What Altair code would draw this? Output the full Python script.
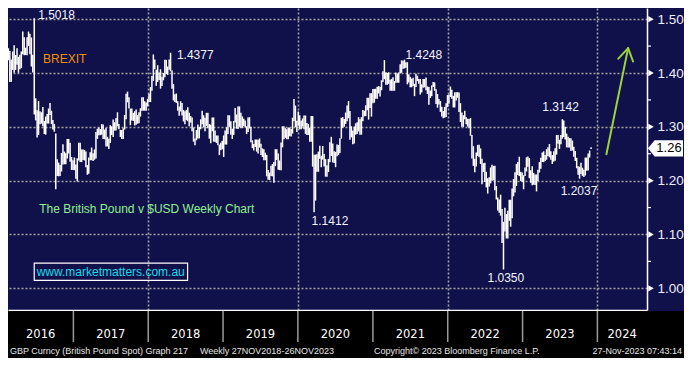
import altair as alt
import pandas as pd

# ---------------- weekly GBPUSD bars (high / low), week ending Fridays ----------------
first_week = "2016-02-19"

hi_2016 = [1.4460, 1.4410, 1.4250, 1.4400, 1.4515, 1.4335, 1.4460, 1.4300, 1.4340, 1.4400,
           1.4770, 1.4665, 1.4470, 1.4665, 1.4770, 1.4730, 1.4660, 1.4340, 1.5018, 1.3530,
           1.3310, 1.3480, 1.3290, 1.3270, 1.3370, 1.3110, 1.3190, 1.3240, 1.3340, 1.3445,
           1.3300, 1.3125, 1.3055, 1.2875, 1.2400, 1.2335, 1.2290, 1.2515, 1.2675, 1.2540,
           1.2510, 1.2775, 1.2775, 1.2705, 1.2440, 1.2380]
lo_2016 = [1.4235, 1.3835, 1.3836, 1.4060, 1.4005, 1.4055, 1.4155, 1.4005, 1.4070, 1.4090,
           1.4350, 1.4330, 1.4335, 1.4330, 1.4500, 1.4350, 1.4120, 1.4010, 1.3230, 1.3120,
           1.2800, 1.2850, 1.3050, 1.3060, 1.3010, 1.2865, 1.2855, 1.3060, 1.3060, 1.3220,
           1.3050, 1.2950, 1.2910, 1.1840, 1.2085, 1.2080, 1.2085, 1.2170, 1.2300, 1.2305,
           1.2305, 1.2410, 1.2505, 1.2350, 1.2200, 1.2200]

hi_2017 = [1.2430, 1.2300, 1.2415, 1.2705, 1.2705, 1.2580, 1.2580, 1.2570, 1.2540, 1.2290,
           1.2430, 1.2530, 1.2615, 1.2510, 1.2580, 1.2905, 1.2965, 1.2990, 1.2960, 1.3050,
           1.3045, 1.2950, 1.2980, 1.2815, 1.2780, 1.3030, 1.3010, 1.3135, 1.3085, 1.3165,
           1.3270, 1.3055, 1.2945, 1.2940, 1.2975, 1.3220, 1.3615, 1.3655, 1.3550, 1.3340,
           1.3340, 1.3260, 1.3290, 1.3320, 1.3220, 1.3270, 1.3345, 1.3550, 1.3550, 1.3475,
           1.3450, 1.3520]
lo_2017 = [1.2195, 1.2035, 1.1985, 1.2375, 1.2345, 1.2345, 1.2385, 1.2375, 1.2250, 1.2110,
           1.2130, 1.2380, 1.2380, 1.2365, 1.2390, 1.2410, 1.2775, 1.2845, 1.2845, 1.2855,
           1.2775, 1.2770, 1.2635, 1.2635, 1.2590, 1.2700, 1.2850, 1.2810, 1.2930, 1.2930,
           1.3010, 1.2955, 1.2810, 1.2775, 1.2775, 1.2950, 1.3140, 1.3455, 1.3340, 1.3030,
           1.3120, 1.3110, 1.3025, 1.3040, 1.3060, 1.3065, 1.3190, 1.3300, 1.3300, 1.3300,
           1.3300, 1.3380]

hi_2018 = [1.3615, 1.3740, 1.3945, 1.4345, 1.4250, 1.4060, 1.4145, 1.4010, 1.4070, 1.3930,
           1.4000, 1.4245, 1.4245, 1.4120, 1.4250, 1.4377, 1.4045, 1.3795, 1.3605, 1.3620,
           1.3475, 1.3380, 1.3475, 1.3445, 1.3315, 1.3290, 1.3315, 1.3365, 1.3260, 1.3200,
           1.3175, 1.2985, 1.2785, 1.2940, 1.3045, 1.3000, 1.3140, 1.3300, 1.3215, 1.3170,
           1.3260, 1.3260, 1.3050, 1.3040, 1.3175, 1.3175, 1.2930, 1.2840, 1.2840, 1.2670,
           1.2705, 1.2740, 1.2840]
lo_2018 = [1.3460, 1.3460, 1.3670, 1.3855, 1.4070, 1.3765, 1.3835, 1.3870, 1.3710, 1.3760,
           1.3865, 1.3920, 1.3985, 1.3965, 1.4060, 1.4030, 1.3710, 1.3490, 1.3460, 1.3445,
           1.3300, 1.3205, 1.3285, 1.3210, 1.3100, 1.3050, 1.3125, 1.3105, 1.3010, 1.3080,
           1.2920, 1.2725, 1.2660, 1.2750, 1.2785, 1.2785, 1.2955, 1.3050, 1.2990, 1.2920,
           1.3015, 1.2975, 1.2780, 1.2695, 1.2920, 1.2725, 1.2720, 1.2700, 1.2660, 1.2475,
           1.2565, 1.2585, 1.2440]

hi_2019 = [1.2930, 1.2990, 1.3215, 1.3215, 1.3105, 1.2965, 1.3110, 1.3350, 1.3230, 1.3380,
           1.3380, 1.3260, 1.3195, 1.3150, 1.3120, 1.3010, 1.3175, 1.3180, 1.3000, 1.2750,
           1.2680, 1.2765, 1.2765, 1.2760, 1.2785, 1.2685, 1.2600, 1.2585, 1.2520, 1.2480,
           1.2200, 1.2150, 1.2275, 1.2310, 1.2345, 1.2585, 1.2585, 1.2505, 1.2375, 1.2710,
           1.3010, 1.3010, 1.2975, 1.2955, 1.2990, 1.2985, 1.2960, 1.3170, 1.3515, 1.3395,
           1.3115, 1.3285]
lo_2019 = [1.2670, 1.2670, 1.2865, 1.3000, 1.2855, 1.2775, 1.2850, 1.3080, 1.2965, 1.2960,
           1.3000, 1.2975, 1.2980, 1.3010, 1.2990, 1.2865, 1.2905, 1.2970, 1.2715, 1.2605,
           1.2560, 1.2625, 1.2540, 1.2505, 1.2615, 1.2475, 1.2440, 1.2380, 1.2380, 1.2080,
           1.2015, 1.2010, 1.2085, 1.2080, 1.1960, 1.2270, 1.2385, 1.2205, 1.2195, 1.2195,
           1.2620, 1.2770, 1.2795, 1.2770, 1.2770, 1.2825, 1.2820, 1.2875, 1.3105, 1.2995,
           1.2905, 1.3030]

hi_2020 = [1.3215, 1.3120, 1.3155, 1.3210, 1.3210, 1.3070, 1.3050, 1.2980, 1.3200, 1.3200,
           1.2480, 1.2485, 1.2490, 1.2540, 1.2650, 1.2465, 1.2645, 1.2495, 1.2400, 1.2285,
           1.2405, 1.2715, 1.2815, 1.2690, 1.2545, 1.2535, 1.2670, 1.2665, 1.2790, 1.3170,
           1.3185, 1.3145, 1.3265, 1.3395, 1.3480, 1.3295, 1.3010, 1.2930, 1.3005, 1.3065,
           1.3085, 1.3180, 1.3140, 1.3180, 1.3315, 1.3300, 1.3400, 1.3540, 1.3540, 1.3625,
           1.3625, 1.3705]
lo_2020 = [1.2955, 1.2955, 1.3005, 1.2955, 1.2870, 1.2850, 1.2850, 1.2725, 1.2725, 1.2260,
           1.1412, 1.1630, 1.2165, 1.2165, 1.2405, 1.2250, 1.2390, 1.2265, 1.2075, 1.2075,
           1.2160, 1.2340, 1.2460, 1.2340, 1.2330, 1.2250, 1.2455, 1.2480, 1.2515, 1.2780,
           1.2985, 1.3000, 1.3055, 1.3105, 1.3160, 1.2760, 1.2805, 1.2675, 1.2690, 1.2855,
           1.2865, 1.2915, 1.2855, 1.2855, 1.3105, 1.3195, 1.3200, 1.3310, 1.3135, 1.3350,
           1.3190, 1.3440]

hi_2021 = [1.3705, 1.3710, 1.3745, 1.3760, 1.3745, 1.3865, 1.4035, 1.4240, 1.4015, 1.4000,
           1.4015, 1.3875, 1.3890, 1.3920, 1.3850, 1.4010, 1.3990, 1.4010, 1.4165, 1.4235,
           1.4230, 1.4248, 1.4200, 1.4200, 1.3975, 1.3930, 1.3895, 1.3910, 1.3800, 1.3985,
           1.3950, 1.3890, 1.3890, 1.3790, 1.3890, 1.3890, 1.3915, 1.3750, 1.3740, 1.3675,
           1.3770, 1.3835, 1.3825, 1.3700, 1.3610, 1.3515, 1.3480, 1.3375, 1.3295, 1.3370,
           1.3440, 1.3590]
lo_2021 = [1.3450, 1.3520, 1.3520, 1.3620, 1.3565, 1.3680, 1.3835, 1.3885, 1.3780, 1.3780,
           1.3800, 1.3670, 1.3670, 1.3670, 1.3670, 1.3820, 1.3820, 1.3820, 1.3990, 1.4005,
           1.4080, 1.4085, 1.4100, 1.3790, 1.3825, 1.3735, 1.3735, 1.3760, 1.3570, 1.3740,
           1.3850, 1.3800, 1.3600, 1.3640, 1.3725, 1.3735, 1.3680, 1.3610, 1.3410, 1.3535,
           1.3570, 1.3740, 1.3670, 1.3425, 1.3355, 1.3415, 1.3280, 1.3190, 1.3160, 1.3170,
           1.3185, 1.3365]

hi_2022 = [1.3600, 1.3750, 1.3690, 1.3575, 1.3640, 1.3645, 1.3645, 1.3640, 1.3440, 1.3265,
           1.3215, 1.3300, 1.3180, 1.3150, 1.3145, 1.3165, 1.2850, 1.2640, 1.2405, 1.2525,
           1.2665, 1.2665, 1.2600, 1.2405, 1.2325, 1.2335, 1.2165, 1.2045, 1.2065, 1.2245,
           1.2295, 1.2275, 1.2275, 1.1900, 1.1685, 1.1650, 1.1740, 1.1475, 1.1235, 1.1495,
           1.1380, 1.1440, 1.1645, 1.1645, 1.1855, 1.2030, 1.2155, 1.2310, 1.2345, 1.2445,
           1.2165, 1.2150]
lo_2022 = [1.3430, 1.3555, 1.3520, 1.3360, 1.3360, 1.3490, 1.3540, 1.3275, 1.3090, 1.3000,
           1.3000, 1.3140, 1.3050, 1.3005, 1.2975, 1.2835, 1.2410, 1.2275, 1.2155, 1.2265,
           1.2460, 1.2435, 1.2310, 1.1935, 1.2160, 1.1975, 1.1875, 1.1760, 1.1890, 1.1950,
           1.2000, 1.2005, 1.1820, 1.1650, 1.1445, 1.1405, 1.1350, 1.0840, 1.0350, 1.1055,
           1.0925, 1.0925, 1.1255, 1.1145, 1.1300, 1.1710, 1.1780, 1.1900, 1.2105, 1.2085,
           1.1995, 1.1975]

hi_2023 = [1.2100, 1.2245, 1.2435, 1.2450, 1.2420, 1.2195, 1.2270, 1.2145, 1.2115, 1.2115,
           1.2205, 1.2345, 1.2425, 1.2525, 1.2545, 1.2475, 1.2585, 1.2620, 1.2680, 1.2545,
           1.2475, 1.2545, 1.2600, 1.2850, 1.2850, 1.2760, 1.2850, 1.3142, 1.3120, 1.3000,
           1.2875, 1.2815, 1.2790, 1.2790, 1.2745, 1.2630, 1.2550, 1.2425, 1.2270, 1.2260,
           1.2335, 1.2240, 1.2205, 1.2430, 1.2430, 1.2505, 1.2560, 1.2620]
lo_2023 = [1.1840, 1.2085, 1.2170, 1.2260, 1.2045, 1.1960, 1.1915, 1.1925, 1.1920, 1.1800,
           1.1995, 1.2150, 1.2220, 1.2345, 1.2345, 1.2365, 1.2390, 1.2460, 1.2435, 1.2390,
           1.2310, 1.2355, 1.2370, 1.2485, 1.2685, 1.2590, 1.2675, 1.2780, 1.2810, 1.2765,
           1.2620, 1.2615, 1.2615, 1.2550, 1.2560, 1.2445, 1.2365, 1.2230, 1.2110, 1.2037,
           1.2125, 1.2090, 1.2070, 1.2095, 1.2185, 1.2190, 1.2430, 1.2590]

# ---------------- axis / label content ----------------
axis_values = [1.00, 1.10, 1.20, 1.30, 1.40, 1.50]
minor_values = [1.05, 1.15, 1.25, 1.35, 1.45]
last_price = 1.26
last_price_label = "1.26"
grid_years = [2018, 2020, 2022, 2024]
year_labels = [2016, 2017, 2018, 2019, 2020, 2021, 2022, 2023, 2024]
x_start, x_end = "2016-02-17", "2024-08-30"
y_min, y_max = 0.9597, 1.5208

ann_text = ["1.5018", "BREXIT", "1.4377", "1.4248", "1.3142", "1.2037", "1.1412", "1.0350",
            "The British Pound v $USD Weekly Chart", "www.marketmatters.com.au"]
ann_date = ["2016-07-13", "2016-08-06", "2018-05-21", "2021-06-09", "2023-04-07", "2023-07-06",
            "2020-03-08", "2022-07-14", "2016-07-18", "2016-07-06"]
ann_value = [1.5084, 1.4267, 1.4338, 1.4338, 1.3361, 1.1817, 1.1249, 1.0183, 1.1479, 1.0299]
ann_color = ["#f2f4ff", "#f39200", "#f2f4ff", "#f2f4ff", "#f2f4ff", "#f2f4ff", "#f2f4ff", "#f2f4ff",
             "#8ff08f", "#19dcea"]

url_box = {"d1": "2016-06-24", "d2": "2018-07-12", "v1": 1.0148, "v2": 1.0467}

arrow_from_date = ["2024-02-14", "2024-05-30", "2024-05-30"]
arrow_to_date = ["2024-05-30", "2024-04-12", "2024-06-23"]
arrow_from_val = [1.2491, 1.4462, 1.4462]
arrow_to_val = [1.4462, 1.4267, 1.4214]

footer_left = "GBP Curncy (British Pound Spot) Graph 217"
footer_left2 = "Weekly 27NOV2018-26NOV2023"
footer_mid = "Copyright\u00a9 2023 Bloomberg Finance L.P."
footer_right = "27-Nov-2023 07:43:14"

# ---------------- build tables ----------------
hi = hi_2016 + hi_2017 + hi_2018 + hi_2019 + hi_2020 + hi_2021 + hi_2022 + hi_2023
lo = lo_2016 + lo_2017 + lo_2018 + lo_2019 + lo_2020 + lo_2021 + lo_2022 + lo_2023
n = min(len(hi), len(lo))
dates = pd.date_range(first_week, periods=n, freq="7D").strftime("%Y-%m-%dT00:00:00")
bars_df = pd.DataFrame({"date": list(dates), "hi": hi[:n], "lo": lo[:n]})

start, end = pd.Timestamp(x_start), pd.Timestamp(x_end)
mids = []
for yr in year_labels:
    a = max(pd.Timestamp(f"{yr}-01-01"), start)
    b = min(pd.Timestamp(f"{yr + 1}-01-01"), end)
    mids.append((a + (b - a) / 2).strftime("%Y-%m-%dT%H:%M:%S"))
years_df = pd.DataFrame({"mid": mids, "label": [str(y) for y in year_labels]})
sep_df = pd.DataFrame({"d": [f"{y}-01-01T00:00:00" for y in year_labels[1:]]})

ann_df = pd.DataFrame({"date": [d + "T00:00:00" for d in ann_date], "v": ann_value,
                       "text": ann_text, "c": ann_color})
box_df = pd.DataFrame([{k: (v + "T00:00:00" if isinstance(v, str) else v) for k, v in url_box.items()}])
arrow_df = pd.DataFrame({"d1": [d + "T00:00:00" for d in arrow_from_date],
                         "d2": [d + "T00:00:00" for d in arrow_to_date],
                         "v1": arrow_from_val, "v2": arrow_to_val})
major_df = pd.DataFrame({"v": axis_values})
minor_df = pd.DataFrame({"v": minor_values})
price_df = pd.DataFrame({"v": [last_price], "t": [last_price_label]})
one = pd.DataFrame({"k": [0]})

# ---------------- layout ----------------
W, H = 639, 302
RIGHT, BOTTOM = 37, 48
NAVY = "#10104a"
GRID = "#a3a3a3"

xs = alt.Scale(domain=[alt.DateTime(year=2016, month=2, date=17), alt.DateTime(year=2024, month=8, date=30)])
ys = alt.Scale(domain=[y_min, y_max])

bars = alt.Chart(bars_df).mark_rule(color="white", strokeWidth=1.5).encode(
    x=alt.X("date:T", scale=xs, title=None,
            axis=alt.Axis(values=[alt.DateTime(year=y, month=1, date=1) for y in grid_years],
                          labels=False, ticks=False, domain=True, domainColor="white",
                          domainWidth=1.5, grid=True, gridColor=GRID, gridDash=[2, 2],
                          gridWidth=1.6)),
    y=alt.Y("lo:Q", scale=ys, title=None,
            axis=alt.Axis(orient="right", values=axis_values, format=".2f", ticks=False,
                          tickSize=0, labelPadding=10, labelColor="#eceef8",
                          labelFont="Liberation Sans", labelFontSize=13.5, domain=True,
                          domainColor="white", domainWidth=1.5, grid=True, gridColor=GRID,
                          gridDash=[2, 2], gridWidth=1.6)),
    y2="hi:Q",
)

band = alt.Chart(one).mark_rect(color="black").encode(
    x=alt.value(0), x2=alt.value(W + RIGHT), y=alt.value(H + 1), y2=alt.value(H + BOTTOM))

seps = alt.Chart(sep_df).mark_rule(color="#9a9a9a", strokeWidth=1.5).encode(
    x=alt.X("d:T", scale=xs), y=alt.value(H + 1), y2=alt.value(H + 32))

years = alt.Chart(years_df).mark_text(color="white", font="DejaVu Sans", fontSize=11.5,
                                      align="center", baseline="middle").encode(
    x=alt.X("mid:T", scale=xs), y=alt.value(H + 25), text="label:N")

def footer(txt, xpos, align):
    return alt.Chart(one).mark_text(text=txt, color="#e6e6e6", font="Liberation Sans",
                                    fontSize=9, align=align, baseline="middle").encode(
        x=alt.value(xpos), y=alt.value(H + 41))

foot = [footer(footer_left, 2, "left"), footer(footer_left2, 192, "left"),
        footer(footer_mid, 366, "left"), footer(footer_right, W + RIGHT - 2, "right")]

ann = alt.Chart(ann_df).mark_text(font="Liberation Sans", fontSize=12, align="left",
                                  baseline="middle").encode(
    x=alt.X("date:T", scale=xs), y=alt.Y("v:Q", scale=ys), text="text:N",
    color=alt.Color("c:N", scale=None))

box = alt.Chart(box_df).mark_rect(filled=False, color="white", strokeWidth=1.2).encode(
    x=alt.X("d1:T", scale=xs), x2="d2:T", y=alt.Y("v1:Q", scale=ys), y2="v2:Q")

arrow = alt.Chart(arrow_df).mark_rule(color="#9fd23a", strokeWidth=2, strokeCap="round").encode(
    x=alt.X("d1:T", scale=xs), x2="d2:T", y=alt.Y("v1:Q", scale=ys), y2="v2:Q")

tri = alt.Chart(major_df).mark_point(shape="triangle-right", filled=True, size=40,
                                     color="white", opacity=1).encode(
    x=alt.value(W + 4), y=alt.Y("v:Q", scale=ys))

minor = alt.Chart(minor_df).mark_rule(color="white", strokeWidth=1.2).encode(
    x=alt.value(W), x2=alt.value(W + 4), y=alt.Y("v:Q", scale=ys))

tag = alt.Chart(price_df).mark_point(
    shape="M-1,0L-0.62,-0.46L1,-0.46L1,0.46L-0.62,0.46Z", filled=True, size=1225,
    color="white", opacity=1).encode(x=alt.value(W + 18.5), y=alt.Y("v:Q", scale=ys))

tag_text = alt.Chart(price_df).mark_text(color="black", font="Liberation Sans", fontSize=13,
                                         align="center", baseline="middle").encode(
    x=alt.value(W + 22), y=alt.Y("v:Q", scale=ys), text="t:N")

chart = alt.layer(bars, band, seps, years, *foot, ann, box, arrow, tri, minor, tag, tag_text).properties(
    width=W, height=H,
    padding={"left": 0, "top": 0, "right": RIGHT, "bottom": BOTTOM},
    autosize=alt.AutoSizeParams(type="none"),
    background=NAVY,
).configure_view(strokeWidth=0)

chart.save("out.html", embed_options={"renderer": "svg", "actions": False})
